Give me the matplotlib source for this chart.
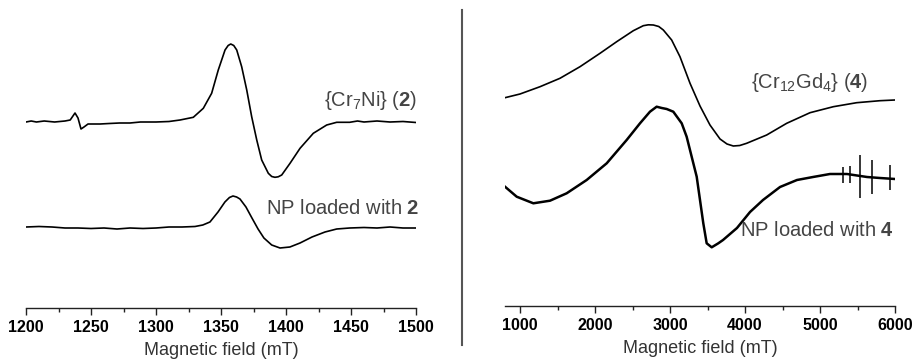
import matplotlib
matplotlib.use("Agg")
import matplotlib.pyplot as plt
from matplotlib.ticker import MultipleLocator
from matplotlib.lines import Line2D

plt.rcParams["font.family"] = ["Liberation Sans", "DejaVu Sans"]
plt.rcParams["mathtext.fontset"] = "custom"
plt.rcParams["mathtext.rm"] = "Liberation Sans"
plt.rcParams["mathtext.it"] = "Liberation Sans"
plt.rcParams["mathtext.bf"] = "Liberation Sans:bold"

# --- Left panel: {Cr7Ni} (2) and NP loaded with 2 (field in mT, signal in arb. units) ---
cr7ni_field = [1200, 1204, 1208, 1214, 1222, 1230, 1234, 1237.7, 1240, 1242.3, 1244.6, 1247.7,
               1257, 1264, 1272, 1280, 1288, 1300, 1310, 1318.5, 1328.7, 1336.4, 1342.8,
               1347.9, 1353.1, 1355.5, 1357.5, 1359.8, 1362.1, 1365.9, 1369.8, 1373.6, 1377.5,
               1381.3, 1386.4, 1389, 1391.5, 1394, 1396.7, 1403.1, 1410.8, 1421, 1431.3, 1439,
               1449, 1455, 1460, 1470, 1480, 1490, 1500]
cr7ni_signal = [0, 1, 0, 1, 0, 1, 2, 9, 4, -7, -5, -2,
                -2, -1.5, -1, -1, 0, 0, 0.5, 2, 4.7, 13.7, 28.7,
                52, 72, 76.5, 78, 76.5, 72, 55.3, 32, 5.3, -18,
                -38, -51.3, -54.5, -55.3, -54.8, -53, -41.3, -26.3, -11.3, -3, -0.3,
                -0.3, 1, 0, 1, 0, 0.5, -0.5]

np2_field = [1200, 1210, 1220, 1230, 1240, 1250, 1260, 1270, 1280, 1290, 1300, 1310, 1320,
             1330, 1336, 1341.5, 1347.7, 1353, 1356.5, 1359.2, 1362, 1364.6, 1369.2, 1373.8,
             1378.5, 1383, 1389, 1395.4, 1403, 1410.8, 1420, 1430, 1439, 1449, 1460, 1470,
             1480, 1490, 1500]
np2_signal = [0, 0.5, 0, -1, -1, -1.5, -1, -2, -1, -1.5, -1, 0, 0,
              0.5, 2, 5, 15, 25, 29.5, 31, 30, 28, 20, 9,
              -2, -11, -18, -21, -20, -16, -10, -5, -2, -1, -0.5, -1,
              0, -1, -1]

# --- Right panel: {Cr12Gd4} (4) and NP loaded with 4 ---
crgd_field = [800, 1000, 1267, 1533, 1800, 2067, 2289, 2511, 2644, 2711, 2778, 2850, 2911,
              3022, 3133, 3267, 3400, 3533, 3667, 3760, 3844, 3930, 4022, 4289, 4556, 4867,
              5178, 5489, 5800, 6000]
crgd_signal = [2.3, 6, 13.3, 21.7, 33.3, 46.7, 58.3, 69.3, 74.3, 75.2, 75, 73.5, 70,
               60, 43.3, 16.7, -6, -25, -39, -44, -46, -45.5, -43.3, -35, -23.3, -12.7,
               -6.7, -2.7, -0.7, 0]

np4_field = [800, 956, 1178, 1400, 1622, 1889, 2156, 2422, 2600, 2733, 2822, 2890, 2956,
             3044, 3156, 3222, 3289, 3356, 3400, 3444, 3489, 3556, 3644, 3707, 3893, 4067,
             4240, 4467, 4693, 4907, 5133, 5360, 5627, 5800, 6000]
np4_signal = [-6.7, -16.7, -23.3, -20.7, -13.3, 0, 16.7, 40, 56.7, 68.3, 73.3, 72, 71,
              68.3, 56.7, 43.3, 23.3, 3.3, -20, -43.3, -63.3, -67.3, -63.3, -60, -48, -32,
              -20, -7, 0, 3, 6, 6, 3, 2, 1]

# instrument spikes on the NP-loaded-with-4 trace
spike_field = [5307, 5400, 5533, 5693, 5933]
spike_top = [13, 14, 25, 20, 15]
spike_bottom = [-3, -3, -18, -14, -10]

OFF_CR7NI, OFF_NP2 = 186, 81
OFF_CRGD, OFF_NP4 = 206, 126

fig = plt.figure(figsize=(9.13, 3.61), dpi=100)
axL = fig.add_axes([26 / 913, 53 / 361, 390 / 913, 308 / 361])
axR = fig.add_axes([505 / 913, 55 / 361, 390 / 913, 306 / 361])

axL.plot(cr7ni_field, [v + OFF_CR7NI for v in cr7ni_signal], color="black", lw=1.2)
axL.plot(np2_field, [v + OFF_NP2 for v in np2_signal], color="black", lw=1.2)
axR.plot(crgd_field, [v + OFF_CRGD for v in crgd_signal], color="black", lw=1.2)
axR.plot(np4_field, [v + OFF_NP4 for v in np4_signal], color="black", lw=1.8)
axR.vlines(spike_field, [v + OFF_NP4 for v in spike_bottom],
           [v + OFF_NP4 for v in spike_top], color="black", lw=1.1)

axL.set_xlim(1200, 1500)
axL.set_ylim(0, 308)
axR.set_xlim(800, 6000)
axR.set_ylim(0, 306)

axL.xaxis.set_major_locator(MultipleLocator(50))
axL.xaxis.set_minor_locator(MultipleLocator(25))
axR.set_xticks([1000, 2000, 3000, 4000, 5000, 6000])
axR.xaxis.set_minor_locator(MultipleLocator(500))

for ax in (axL, axR):
    for s in ("top", "right", "left"):
        ax.spines[s].set_visible(False)
    ax.spines["bottom"].set_color("#222222")
    ax.spines["bottom"].set_linewidth(1.0)
    ax.set_yticks([])
    ax.tick_params(axis="x", which="major", direction="out", length=5, width=1.0,
                   color="#222222", labelsize=11.5, pad=4)
    ax.tick_params(axis="x", which="minor", direction="out", length=3, width=1.0,
                   color="#222222")
    for lbl in ax.get_xticklabels():
        lbl.set_fontweight("bold")
    ax.set_xlabel("Magnetic field (mT)", fontsize=13, color="#333333", labelpad=5)
    ax.patch.set_alpha(0)

txt = dict(fontsize=14.5, color="#444444", ha="right", va="center")
axL.text(1501, 208, r"{Cr$_7$Ni} ($\mathbf{2}$)", **txt)
axL.text(1503, 99, r"NP loaded with $\mathbf{2}$", **txt)
axR.text(5650, 224, r"{Cr$_{12}$Gd$_4$} ($\mathbf{4}$)", **txt)
axR.text(5980, 76, r"NP loaded with $\mathbf{4}$", **txt)

# separator between the two panels
fig.add_artist(Line2D([462 / 913, 462 / 913], [1 - 10 / 361, 1 - 345 / 361],
                      transform=fig.transFigure, color="#555555", lw=1.5))

fig.savefig("out.png", dpi=100)
